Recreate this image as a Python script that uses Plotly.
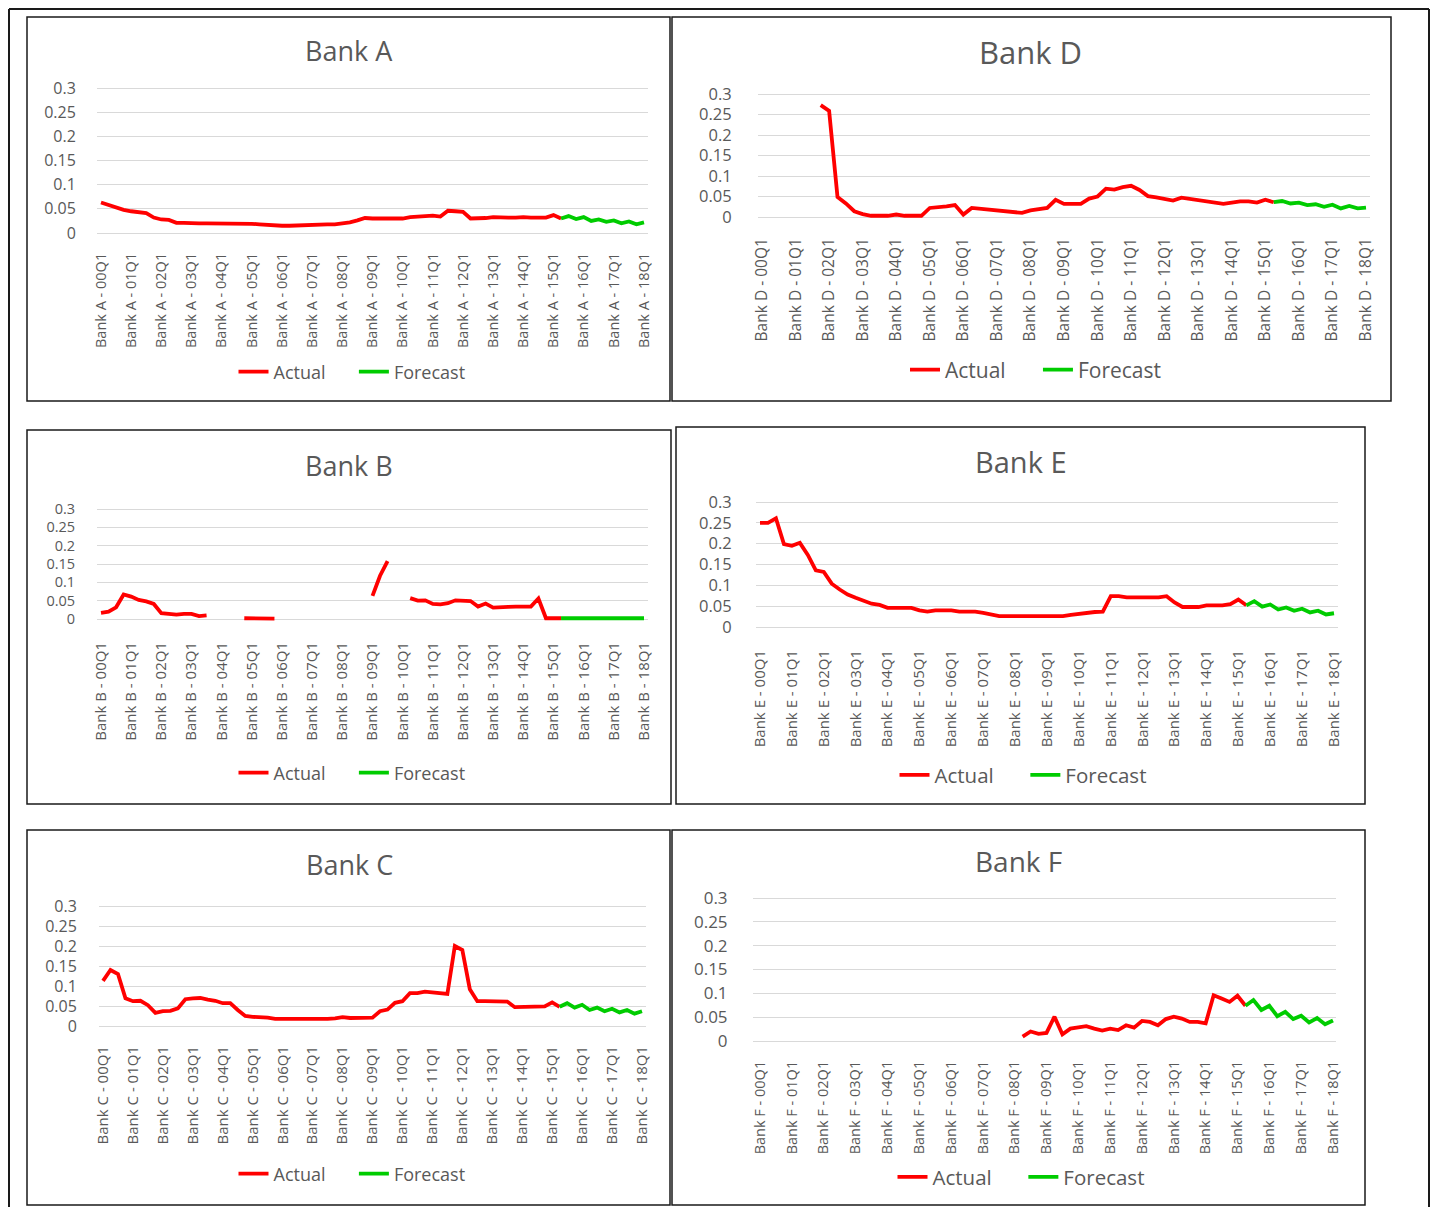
import plotly.graph_objects as go

# the page keeps the browser's default 8px body margin, so the figure is 16px smaller
OFF = 8
W, H = 1439 - 2 * OFF, 1215 - 2 * OFF

# ---------------- data ----------------
quarters = [f"{y:02d}Q{q}" for y in range(0, 19) for q in range(1, 5)][:73]  # 00Q1 .. 18Q1

bank_a_actual = [0.063, 0.058, 0.052, 0.048, 0.045, 0.043, 0.041, 0.032, 0.028, 0.027,
                 0.021, 0.021, 0.020, 0.020, 0.020, 0.020, 0.020, 0.019, 0.019, 0.020,
                 0.019, 0.018, 0.017, 0.015, 0.015, 0.015, 0.016, 0.016, 0.017, 0.017,
                 0.018, 0.018, 0.020, 0.022, 0.026, 0.031, 0.030, 0.030, 0.029, 0.030,
                 0.030, 0.033, 0.034, 0.036, 0.036, 0.034, 0.046, 0.045, 0.044, 0.030,
                 0.030, 0.031, 0.033, 0.032, 0.032, 0.032, 0.033, 0.032, 0.032, 0.032,
                 0.037, 0.030]
bank_a_forecast = [0.030, 0.035, 0.029, 0.033, 0.025, 0.028, 0.023, 0.026, 0.020, 0.024, 0.018, 0.022]

bank_d_actual = [None, None, None, None, None, None, None,
                 0.273, 0.259, 0.049, 0.033, 0.014, 0.007, 0.003, 0.003, 0.003, 0.006,
                 0.003, 0.003, 0.003, 0.022, 0.023, 0.026, 0.029, 0.006, 0.022, 0.020,
                 0.017, 0.014, 0.013, 0.010, 0.010, 0.016, 0.019, 0.022, 0.042, 0.032,
                 0.032, 0.032, 0.045, 0.050, 0.069, 0.067, 0.073, 0.076, 0.066, 0.051,
                 0.048, 0.045, 0.040, 0.047, 0.044, 0.040, 0.039, 0.035, 0.032, 0.035,
                 0.038, 0.038, 0.035, 0.042, 0.036]
bank_d_forecast = [0.036, 0.039, 0.033, 0.035, 0.029, 0.031, 0.025, 0.030, 0.021, 0.027, 0.021, 0.023]

bank_b_actual = [0.017, 0.020, 0.032, 0.067, 0.061, 0.052, 0.048, 0.041, 0.016, 0.015,
                 0.012, 0.014, 0.014, 0.008, 0.010,
                 None, None, None, None,
                 0.002, 0.002, 0.002, 0.002, 0.001,
                 None, None, None, None, None, None, None, None, None, None, None, None,
                 0.063, 0.118, 0.158,
                 None, None,
                 0.057, 0.050, 0.051, 0.041, 0.040, 0.043, 0.051, 0.049, 0.049, 0.034,
                 0.042, 0.031, 0.031, 0.033, 0.034, 0.034, 0.034, 0.056, 0.002, 0.002,
                 0.002]
bank_b_forecast = [0.002, 0.002, 0.002, 0.002, 0.002, 0.002, 0.002, 0.002, 0.002, 0.002, 0.002, 0.002]

bank_e_actual = [0.250, 0.250, 0.261, 0.199, 0.195, 0.202, 0.173, 0.136, 0.132, 0.104,
                 0.090, 0.078, 0.070, 0.064, 0.056, 0.053, 0.046, 0.046, 0.046, 0.046,
                 0.040, 0.037, 0.040, 0.040, 0.040, 0.037, 0.037, 0.037, 0.034, 0.031,
                 0.026, 0.026, 0.026, 0.026, 0.026, 0.026, 0.026, 0.026, 0.026, 0.029,
                 0.032, 0.033, 0.036, 0.037, 0.074, 0.074, 0.071, 0.071, 0.071, 0.071,
                 0.071, 0.074, 0.059, 0.048, 0.048, 0.048, 0.052, 0.052, 0.052, 0.055,
                 0.066, 0.052]
bank_e_forecast = [0.052, 0.062, 0.049, 0.054, 0.042, 0.047, 0.039, 0.044, 0.035, 0.039, 0.030, 0.033]

bank_c_actual = [0.113, 0.140, 0.130, 0.069, 0.062, 0.063, 0.052, 0.033, 0.037, 0.038,
                 0.044, 0.067, 0.069, 0.070, 0.066, 0.063, 0.057, 0.057, 0.040, 0.025,
                 0.023, 0.023, 0.021, 0.018, 0.018, 0.017, 0.016, 0.016, 0.016, 0.017,
                 0.018, 0.019, 0.022, 0.020, 0.021, 0.021, 0.021, 0.037, 0.041, 0.058,
                 0.062, 0.082, 0.082, 0.086, 0.084, 0.082, 0.080, 0.200, 0.190, 0.092,
                 0.062, 0.062, 0.062, 0.062, 0.061, 0.047, 0.047, 0.048, 0.048, 0.049,
                 0.059, 0.048]
bank_c_forecast = [0.048, 0.057, 0.046, 0.053, 0.040, 0.046, 0.037, 0.043, 0.034, 0.040, 0.031, 0.037]

bank_f_actual = [None] * 33 + [
                 0.009, 0.020, 0.015, 0.017, 0.051, 0.014, 0.026, 0.029, 0.031, 0.026,
                 0.022, 0.026, 0.023, 0.033, 0.028, 0.042, 0.040, 0.033, 0.046, 0.051,
                 0.047, 0.040, 0.040, 0.037, 0.096, 0.089, 0.082, 0.095, 0.074]
bank_f_forecast = [0.074, 0.086, 0.065, 0.074, 0.052, 0.061, 0.046, 0.053, 0.039, 0.048, 0.035, 0.043]

y_tick_vals = [0, 0.05, 0.1, 0.15, 0.2, 0.25, 0.3]
y_tick_text = ["0", "0.05", "0.1", "0.15", "0.2", "0.25", "0.3"]

# ---------------- layout settings (page pixels) ----------------
panels = [
    dict(bank="Bank A", actual=bank_a_actual, forecast=bank_a_forecast,
         box=(27, 17, 670, 401), g=(97, 648), q=(101, 644), p=(233, 88),
         title=(349, 50, 27), ytf=16, ytl=17, xtf=14.5, xtl=8, leg=(352, 372, 18)),
    dict(bank="Bank D", actual=bank_d_actual, forecast=bank_d_forecast,
         box=(672, 17, 1391, 401), g=(758, 1370), q=(762, 1366), p=(217, 94),
         title=(1031, 52, 31), ytf=16.5, ytl=22, xtf=15.5, xtl=9, leg=(1036, 370, 21)),
    dict(bank="Bank B", actual=bank_b_actual, forecast=bank_b_forecast,
         box=(27, 430, 671, 804), g=(97, 648), q=(101, 644), p=(619, 509),
         title=(349, 465, 27), ytf=14.5, ytl=18, xtf=15, xtl=11, leg=(352, 773, 18)),
    dict(bank="Bank E", actual=bank_e_actual, forecast=bank_e_forecast,
         box=(676, 427, 1365, 804), g=(756, 1338), q=(760, 1334), p=(627, 502),
         title=(1021, 461, 29), ytf=16.5, ytl=20, xtf=15, xtl=11, leg=(1023, 775, 20.5)),
    dict(bank="Bank C", actual=bank_c_actual, forecast=bank_c_forecast,
         box=(27, 830, 670, 1205), g=(99, 646), q=(103, 642), p=(1026, 906),
         title=(349, 864, 27), ytf=16, ytl=18, xtf=15, xtl=8, leg=(352, 1174, 18)),
    dict(bank="Bank F", actual=bank_f_actual, forecast=bank_f_forecast,
         box=(672, 830, 1365, 1205), g=(753, 1336), q=(760, 1333), p=(1041, 898),
         title=(1018, 861, 28), ytf=17, ytl=21, xtf=14.5, xtl=8, leg=(1021, 1177, 20.5)),
]

FONT = "Open Sans, Noto Sans, sans-serif"
TXT = "#595959"
RED = "#FF0000"
GREEN = "#00CC00"
NB = "\u00a0"


def px(x):
    return (x - OFF) / W


def py(y):
    return 1 - (y - OFF) / H


fig = go.Figure()
layout = dict(width=W, height=H, margin=dict(l=0, r=0, t=0, b=0, autoexpand=False), autosize=False,
              paper_bgcolor="white", plot_bgcolor="white", showlegend=True,
              font=dict(family=FONT, color=TXT))
shapes = []
annotations = []
PAD = 5

for k, pn in enumerate(panels, start=1):
    ax = "" if k == 1 else str(k)
    leg = "legend" if k == 1 else f"legend{k}"
    cats = [f"{pn['bank']} - {q}" for q in quarters]
    n_act = len(pn["actual"])
    fig.add_trace(go.Scatter(x=cats[:n_act], y=pn["actual"], mode="lines", name="Actual" + NB * 5,
                             line=dict(color=RED, width=3.8), connectgaps=False,
                             xaxis="x" + ax, yaxis="y" + ax, legend=leg, hoverinfo="x+y"))
    fig.add_trace(go.Scatter(x=cats[n_act - 1:], y=pn["forecast"], mode="lines", name="Forecast",
                             line=dict(color=GREEN, width=3.8),
                             xaxis="x" + ax, yaxis="y" + ax, legend=leg, hoverinfo="x+y"))

    g0, g1 = pn["g"]
    q0, q72 = pn["q"]
    ux = 72.0 / (q72 - q0)
    xr = [-(q0 - g0) * ux, 72 + (g1 - q72) * ux]
    p0, p3 = pn["p"]
    uy = 0.3 / (p0 - p3)
    yr = [-PAD * uy, 0.3 + PAD * uy]

    layout["xaxis" + ax] = dict(
        domain=[px(g0), px(g1)], anchor="y" + ax, type="category", automargin=False,
        range=xr, tickmode="array", tickvals=cats[::4], ticktext=cats[::4],
        tickangle=-90, tickfont=dict(family=FONT, size=pn["xtf"], color=TXT),
        ticks="outside", ticklen=pn["xtl"], tickcolor="rgba(0,0,0,0)",
        showgrid=False, showline=False, zeroline=False, fixedrange=True)
    layout["yaxis" + ax] = dict(
        domain=[py(p0 + PAD), py(p3 - PAD)], anchor="x" + ax, automargin=False,
        range=yr, tickmode="array", tickvals=y_tick_vals, ticktext=y_tick_text,
        tickfont=dict(family=FONT, size=pn["ytf"], color=TXT),
        ticks="outside", ticklen=pn["ytl"], tickcolor="rgba(0,0,0,0)",
        showgrid=True, gridcolor="#D9D9D9", gridwidth=1,
        showline=False, zeroline=False, fixedrange=True)

    lx, ly, lsize = pn["leg"]
    layout[leg] = dict(orientation="h", x=px(lx), y=py(ly), xanchor="center", yanchor="middle",
                       xref="paper", yref="paper",
                       font=dict(family=FONT, size=lsize, color=TXT),
                       bgcolor="rgba(0,0,0,0)", itemwidth=30, tracegroupgap=0)

    tx, ty, tsize = pn["title"]
    annotations.append(dict(text=pn["bank"], x=px(tx), y=py(ty), xref="paper", yref="paper",
                            xanchor="center", yanchor="middle", showarrow=False,
                            font=dict(family=FONT, size=tsize, color=TXT)))

    bx0, by0, bx1, by1 = pn["box"]
    shapes.append(dict(type="rect", xref="paper", yref="paper",
                       x0=px(bx0), x1=px(bx1), y0=py(by1), y1=py(by0),
                       line=dict(color="#1a1a1a", width=1.5), fillcolor="rgba(0,0,0,0)",
                       layer="below"))

# outer frame (kept just inside the figure area)
for (x0, y0, x1, y1) in [(9, 9, 1429, 9), (9, 9, 9, 1207), (1429, 9, 1429, 1207)]:
    shapes.append(dict(type="line", xref="paper", yref="paper",
                       x0=px(x0), x1=px(x1), y0=py(y0), y1=py(y1),
                       line=dict(color="#1a1a1a", width=2)))

layout["shapes"] = shapes
layout["annotations"] = annotations
fig.update_layout(**layout)

fig.write_html("out.html", config={"displayModeBar": False, "responsive": False})
